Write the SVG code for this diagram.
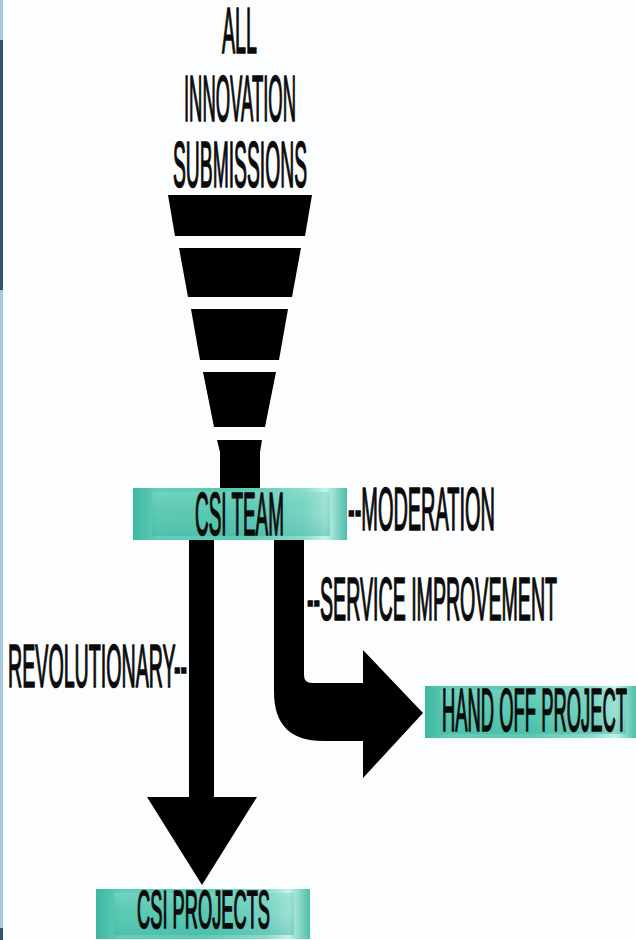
<svg xmlns="http://www.w3.org/2000/svg" width="636" height="940" viewBox="0 0 636 940">
  <defs>
    <style>
      .lbl { font-family: "Liberation Sans", Arial, sans-serif; font-weight: normal; fill: #0a0a0a; stroke: #0a0a0a; stroke-width: 1.7; stroke-linejoin: round; }
      .big { font-size: 64px; }
      .mid { font-size: 61px; }
      .small { font-size: 54px; }
      .shape { fill: #000; }
      .box { fill: url(#tealH); }
      .boxInner { fill: url(#tealInner); }
    </style>
    <linearGradient id="tealH" x1="0" y1="0" x2="1" y2="0">
      <stop offset="0" stop-color="#3fb7a0"/>
      <stop offset="0.12" stop-color="#62cdb9"/>
      <stop offset="0.5" stop-color="#5cc9b4"/>
      <stop offset="0.8" stop-color="#8ddccd"/>
      <stop offset="0.9" stop-color="#c6f1e9"/>
      <stop offset="1" stop-color="#4dbfa9"/>
    </linearGradient>
    <linearGradient id="tealInner" x1="0" y1="0" x2="0" y2="1">
      <stop offset="0" stop-color="#7fd8c6" stop-opacity="0.55"/>
      <stop offset="0.5" stop-color="#52c2ad" stop-opacity="0.35"/>
      <stop offset="1" stop-color="#3db49e" stop-opacity="0.5"/>
    </linearGradient>
  </defs>

  <!-- page -->
  <rect x="0" y="0" width="636" height="940" fill="#fcfdfe"/>
  <rect x="0" y="0" width="3" height="940" fill="#a8c9dc"/>
  <rect x="0" y="40" width="3" height="250" fill="#2c5670"/>
  <rect x="0" y="928" width="3" height="12" fill="#2c5670"/>

  <!-- funnel heading -->
  <g id="heading">
    <text class="lbl big" x="222" y="53" textLength="35" lengthAdjust="spacingAndGlyphs">ALL</text>
    <text class="lbl big" x="184" y="121" textLength="112" lengthAdjust="spacingAndGlyphs">INNOVATION</text>
    <text class="lbl big" x="173" y="187" textLength="134" lengthAdjust="spacingAndGlyphs">SUBMISSIONS</text>
  </g>

  <!-- funnel -->
  <g id="funnel" class="shape">
    <polygon points="168,195 312,195 305,236 175,236"/>
    <polygon points="179,248 301,248 292,297 188,297"/>
    <polygon points="191,309 288,309 279,360 200,360"/>
    <polygon points="203,372 276,372 265,427 214,427"/>
    <polygon points="217,440 262,440 260,452 260,492 220,492 220,452"/>
  </g>

  <!-- connectors -->
  <g id="connectors" class="shape">
    <path id="to-csi-projects" d="M189,536 V797 H147 L202,885 L257,797 H214 V536 Z"/>
    <path id="to-hand-off" d="M274,536 V692 Q274,741 323,741 H363 V778 L423,713 L363,650 V683 H312 Q304,683 304,675 V536 Z"/>
  </g>

  <!-- CSI TEAM -->
  <g id="csi-team">
    <rect class="box" x="133" y="488" width="214" height="52"/>
    <rect class="boxInner" x="152" y="492" width="178" height="44"/>
    <text class="lbl mid" x="195" y="535" textLength="89" lengthAdjust="spacingAndGlyphs">CSI TEAM</text>
  </g>

  <g id="moderation">
    <text class="lbl mid" x="348" y="530" textLength="147" lengthAdjust="spacingAndGlyphs">--MODERATION</text>
  </g>

  <g id="service-improvement">
    <text class="lbl mid" x="307" y="620" textLength="250" lengthAdjust="spacingAndGlyphs">--SERVICE IMPROVEMENT</text>
  </g>

  <g id="revolutionary">
    <text class="lbl mid" x="8" y="687" textLength="179" lengthAdjust="spacingAndGlyphs">REVOLUTIONARY--</text>
  </g>

  <!-- HAND OFF PROJECT -->
  <g id="hand-off-project">
    <rect class="box" x="425" y="686" width="211" height="52"/>
    <rect class="boxInner" x="440" y="690" width="186" height="44"/>
    <text class="lbl mid" x="442" y="731" textLength="185" lengthAdjust="spacingAndGlyphs">HAND OFF PROJECT</text>
  </g>

  <!-- CSI PROJECTS -->
  <g id="csi-projects">
    <rect class="box" x="96" y="889" width="214" height="50"/>
    <rect class="boxInner" x="114" y="893" width="180" height="42"/>
    <text class="lbl small" x="137" y="928" textLength="133" lengthAdjust="spacingAndGlyphs">CSI PROJECTS</text>
  </g>
</svg>
